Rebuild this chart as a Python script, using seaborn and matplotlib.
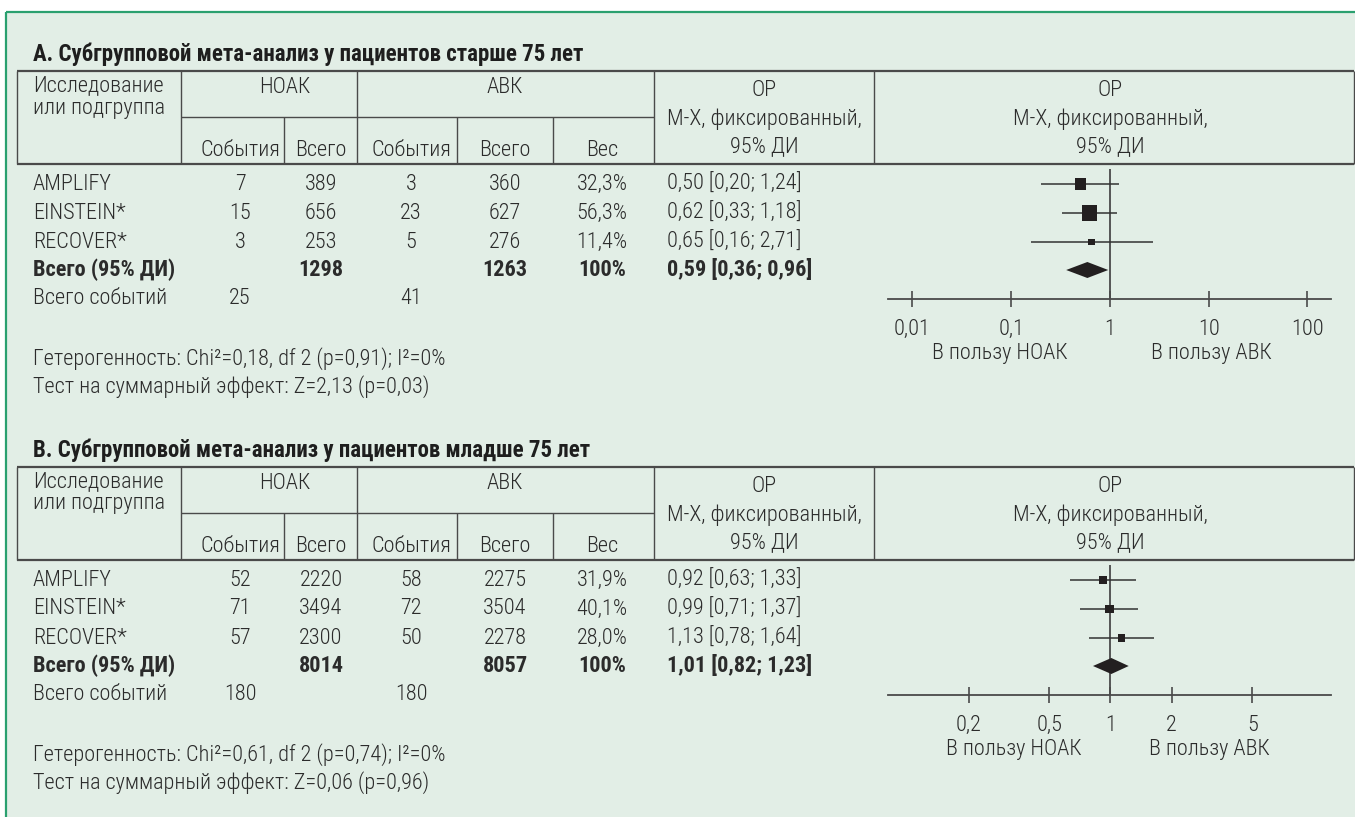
import matplotlib
matplotlib.use("Agg")
import matplotlib.pyplot as plt
from matplotlib import font_manager as fm
from matplotlib.ticker import FixedLocator, FixedFormatter, NullLocator
import seaborn as sns

# ---------------- data ----------------
studies = ["AMPLIFY", "EINSTEIN*", "RECOVER*"]

# patients older than 75
old_noak_events = [7, 15, 3]
old_noak_total = [389, 656, 253]
old_avk_events = [3, 23, 5]
old_avk_total = [360, 627, 276]
old_weight = [32.3, 56.3, 11.4]
old_rr = [0.50, 0.62, 0.65]
old_rr_lo = [0.20, 0.33, 0.16]
old_rr_hi = [1.24, 1.18, 2.71]
old_pooled = [0.59, 0.36, 0.96]          # estimate, lower, upper
old_sum_total = [1298, 1263]             # НОАК, АВК
old_sum_events = [25, 41]                # НОАК, АВК
old_het = "Гетерогенность: Chi²=0,18, df 2 (p=0,91); I²=0%"
old_test = "Тест на суммарный эффект: Z=2,13 (p=0,03)"
old_ticks = [0.01, 0.1, 1, 10, 100]
old_tick_labels = ["0,01", "0,1", "1", "10", "100"]

# patients younger than 75
young_noak_events = [52, 71, 57]
young_noak_total = [2220, 3494, 2300]
young_avk_events = [58, 72, 50]
young_avk_total = [2275, 3504, 2278]
young_weight = [31.9, 40.1, 28.0]
young_rr = [0.92, 0.99, 1.13]
young_rr_lo = [0.63, 0.71, 0.78]
young_rr_hi = [1.33, 1.37, 1.64]
young_pooled = [1.01, 0.82, 1.23]
young_sum_total = [8014, 8057]
young_sum_events = [180, 180]
young_het = "Гетерогенность: Chi²=0,61, df 2 (p=0,74); I²=0%"
young_test = "Тест на суммарный эффект: Z=0,06 (p=0,96)"
young_ticks = [0.2, 0.5, 1, 2, 5]
young_tick_labels = ["0,2", "0,5", "1", "2", "5"]

titles = ["А. Субгрупповой мета-анализ у пациентов старше 75 лет",
          "В. Субгрупповой мета-анализ у пациентов младше 75 лет"]

# ---------------- style ----------------
sns.set_theme(style="white")
available = {f.name for f in fm.fontManager.ttflist}
FONT = next((f for f in ["Liberation Sans Narrow", "Roboto Condensed",
                         "Open Sans Condensed", "Liberation Sans", "DejaVu Sans"]
             if f in available), "DejaVu Sans")
plt.rcParams["font.family"] = [FONT, "DejaVu Sans"]

W, H = 1355, 817
FS = 16
FS_TITLE = 16.5
TXT = "#2b2b2b"
LINE = "#4a4a4a"
INK = "#231f20"
BG = "#e2eee6"
GREEN = "#2aa06f"


def fmt(v, nd=2):
    return f"{v:.{nd}f}".replace(".", ",")


fig = plt.figure(figsize=(W / 100, H / 100), dpi=100)
fig.patch.set_facecolor("white")
bg = fig.add_axes([0, 0, 1, 1])
bg.set_xlim(0, W)
bg.set_ylim(H, 0)
bg.axis("off")

# panel background and green frame
bg.add_patch(plt.Rectangle((6, 12), W - 6, H - 12, facecolor=BG, edgecolor="none"))
bg.plot([6, W], [12, 12], color=GREEN, lw=1.6, solid_capstyle="butt")
bg.plot([6, 6], [12, H], color=GREEN, lw=1.6, solid_capstyle="butt")


def txt(x, y, s, ha="left", bold=False):
    bg.text(x, y, s, ha=ha, va="center", fontsize=FS, color=TXT,
            fontweight="bold" if bold else "light")


def hline(y, x0, x1, lw=1.0):
    bg.plot([x0, x1], [y, y], color=LINE, lw=lw, solid_capstyle="butt")


def vline(x, y0, y1, lw=1.0):
    bg.plot([x, x], [y0, y1], color=LINE, lw=lw, solid_capstyle="butt")


# column geometry (pixels)
TL, TR = 17, 1354
C_STUDY, C_NOAK, C_AVK, C_OR = 181, 357, 654, 874
SUB_NOAK, SUB_AVK1, SUB_AVK2 = 284, 457, 553
X_NE, X_NT, X_AE, X_AT, X_W = 240, 321, 411, 505, 602
X_OR = 667
X_LEFT = 33

# vertical layout of a panel (pixels from the panel origin)
LAYOUT = dict(title=54, top=71, h1=86, h2=108, sub=117, h3=150, bottom=164,
              oh1=90, oh2=119, oh3=147,
              rows=[184, 213, 242], total=270, events=298, ref_top=169,
              axis=299, fav=353, het=359, test=387)


def draw_panel(p, off):
    L = {k: ([v + off for v in val] if isinstance(val, list) else val + off)
         for k, val in LAYOUT.items()}

    bg.text(X_LEFT, L["title"], p["title"], ha="left", va="center",
            fontsize=FS_TITLE, fontweight="bold", color="#1e1e1e")

    # header grid
    hline(L["top"], TL, TR, 1.6)
    hline(L["bottom"], TL, TR, 1.6)
    hline(L["sub"], C_STUDY, C_AVK, 1.0)
    for x in (TL, C_STUDY, C_NOAK, C_AVK, C_OR, TR):
        vline(x, L["top"], L["bottom"], 1.0)
    for x in (SUB_NOAK, SUB_AVK1, SUB_AVK2):
        vline(x, L["sub"], L["bottom"], 1.0)

    txt(X_LEFT, L["h1"], "Исследование")
    txt(X_LEFT, L["h2"], "или подгруппа")
    txt(285, L["h1"] + 1, "НОАК", ha="center")
    txt(505, L["h1"] + 1, "АВК", ha="center")
    for x, s in ((X_NE, "События"), (X_NT, "Всего"), (X_AE, "События"),
                 (X_AT, "Всего"), (X_W, "Вес")):
        txt(x, L["h3"], s, ha="center")
    for xc in ((C_AVK + C_OR) / 2, 1110):
        txt(xc, L["oh1"], "ОР", ha="center")
        txt(xc, L["oh2"], "М-Х, фиксированный,", ha="center")
        txt(xc, L["oh3"], "95% ДИ", ha="center")

    # study rows
    rows = L["rows"]
    for i, y in enumerate(rows):
        txt(X_LEFT, y, studies[i])
        txt(X_NE, y, str(p["ne"][i]), ha="center")
        txt(X_NT, y, str(p["nt"][i]), ha="center")
        txt(X_AE, y, str(p["ae"][i]), ha="center")
        txt(X_AT, y, str(p["at"][i]), ha="center")
        txt(X_W, y, fmt(p["w"][i], 1) + "%", ha="center")
        txt(X_OR, y, f"{fmt(p['rr'][i])} [{fmt(p['lo'][i])}; {fmt(p['hi'][i])}]")

    est, plo, phi = p["pooled"]
    y_sum = L["total"]
    txt(X_LEFT, y_sum, "Всего (95% ДИ)", bold=True)
    txt(X_NT, y_sum, str(p["sum_total"][0]), ha="center", bold=True)
    txt(X_AT, y_sum, str(p["sum_total"][1]), ha="center", bold=True)
    txt(X_W, y_sum, f"{sum(p['w']):.0f}%", ha="center", bold=True)
    txt(X_OR, y_sum, f"{fmt(est)} [{fmt(plo)}; {fmt(phi)}]", bold=True)

    txt(X_LEFT, L["events"], "Всего событий")
    txt(X_NE, L["events"], str(p["sum_events"][0]), ha="center")
    txt(X_AE, L["events"], str(p["sum_events"][1]), ha="center")

    txt(X_LEFT, L["het"], p["het"])
    txt(X_LEFT, L["test"], p["test"])

    # forest plot on a log scale
    ax_top, ax_bot = L["bottom"], L["axis"] + 80
    ax = fig.add_axes([888 / W, 1 - ax_bot / H, (1331 - 888) / W, (ax_bot - ax_top) / H])
    ax.set_xscale("log")
    ax.set_xlim(*p["xlim"])
    ax.set_ylim(ax_bot, ax_top)
    ax.patch.set_alpha(0)
    for s in ("top", "right", "left"):
        ax.spines[s].set_visible(False)
    ax.spines["bottom"].set_position(("data", L["axis"]))
    ax.spines["bottom"].set_color(LINE)
    ax.spines["bottom"].set_linewidth(1.3)
    ax.xaxis.set_major_locator(FixedLocator(p["ticks"]))
    ax.xaxis.set_major_formatter(FixedFormatter(p["tick_labels"]))
    ax.xaxis.set_minor_locator(NullLocator())
    ax.tick_params(axis="x", which="major", bottom=True, direction="inout",
                   length=11, width=1.2, colors=LINE, labelcolor=TXT,
                   labelsize=FS, pad=9)
    for lab in ax.get_xticklabels():
        lab.set_fontweight("light")
    ax.set_yticks([])
    ax.grid(False)

    ax.vlines(1, L["ref_top"], L["axis"], color=LINE, lw=1.3)
    ax.hlines(rows, p["lo"], p["hi"], color="#333333", lw=1.1)
    sizes = [(p["box_k"] * w ** 0.5 * 0.72) ** 2 for w in p["w"]]
    sns.scatterplot(x=p["rr"], y=rows, marker="s", s=sizes, color=INK,
                    edgecolor="none", linewidth=0, ax=ax, legend=False, zorder=3)
    ax.fill([plo, est, phi, est], [y_sum, y_sum - 8, y_sum, y_sum + 8],
            color=INK, lw=0, zorder=3)

    txt(p["fav"][0], L["fav"], "В пользу НОАК", ha="center")
    txt(p["fav"][1], L["fav"], "В пользу АВК", ha="center")


panels = [
    dict(title=titles[0], ne=old_noak_events, nt=old_noak_total, ae=old_avk_events,
         at=old_avk_total, w=old_weight, rr=old_rr, lo=old_rr_lo, hi=old_rr_hi,
         pooled=old_pooled, sum_total=old_sum_total, sum_events=old_sum_events,
         het=old_het, test=old_test, ticks=old_ticks, tick_labels=old_tick_labels,
         xlim=(0.00565, 173), fav=(1000, 1211), box_k=2.0),
    dict(title=titles[1], ne=young_noak_events, nt=young_noak_total, ae=young_avk_events,
         at=young_avk_total, w=young_weight, rr=young_rr, lo=young_rr_lo, hi=young_rr_hi,
         pooled=young_pooled, sum_total=young_sum_total, sum_events=young_sum_events,
         het=young_het, test=young_test, ticks=young_ticks, tick_labels=young_tick_labels,
         xlim=(0.0802, 12.2), fav=(1014, 1209), box_k=1.4),
]

draw_panel(panels[0], 0)
draw_panel(panels[1], 396)

fig.savefig("out.png", dpi=100, facecolor=fig.get_facecolor())
